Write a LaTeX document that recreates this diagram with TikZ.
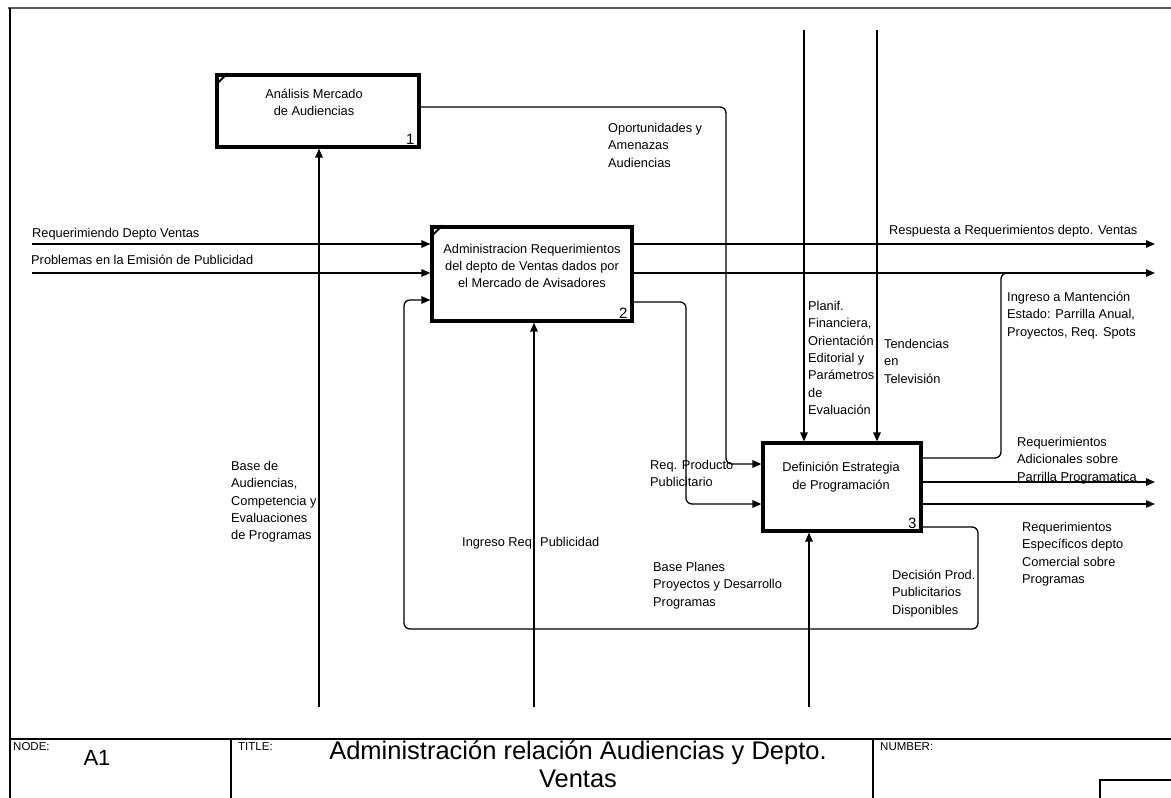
\documentclass[tikz,border=0pt]{standalone}
\usepackage{fontspec}
\setmainfont{Liberation Sans}
\usetikzlibrary{arrows.meta}
\newcommand\lblfont{\fontsize{12.8}{17.3}\selectfont}
\newcommand\tagfont{\fontsize{11.5}{13}\selectfont}
\begin{document}
\begin{tikzpicture}[x=1pt,y=-1pt,
  box/.style={draw, line width=3.2pt, inner sep=0pt},
  boxtxt/.style={font=\lblfont, align=center, inner sep=0pt},
  num/.style={font=\fontsize{15}{17}\selectfont, inner sep=0pt},
  flow/.style={line width=1.3pt, rounded corners=6pt},
  arr/.style={flow, -{Triangle[length=9pt,width=7.5pt]}},
  % multi-line labels are placed by the baseline of their last line
  lbl/.style={font=\lblfont, align=left, inner sep=0pt, anchor=base west},
  tag/.style={font=\tagfont, inner sep=0pt, anchor=base west},
  rule/.style={line width=1.3pt}
]
\useasboundingbox (0,0) rectangle (1171,798);
\fill[white] (0,0) rectangle (1171,798);

% sheet frame
\draw[line width=2.5pt, black!65] (8,8) -- (1171,8);
\draw[line width=1.8pt] (10,8) -- (10,798);

% activity boxes
\node[box, minimum width=202pt, minimum height=72pt] (b1) at (318,111) {};
\node[box, minimum width=200pt, minimum height=94pt] (b2) at (532,274) {};
\node[box, minimum width=158pt, minimum height=88pt] (b3) at (842,487) {};
\foreach \b in {b1,b2}
  \draw[line width=2pt] ([yshift=-12pt]\b.north west) -- ([xshift=12pt]\b.north west);

\node[boxtxt] (t1) at (314,102) {Análisis Mercado\\de Audiencias};
\node[boxtxt] (t2) at (532,266) {Administracion Requerimientos\\del depto de Ventas dados por\\el Mercado de Avisadores};
\node[boxtxt] (t3) at (841,477) {Definición Estrategia\\de Programación};
\node[num, anchor=south east] (n1) at ([xshift=-6pt,yshift=4pt]b1.south east) {1};
\node[num, anchor=south east] (n2) at ([xshift=-6pt,yshift=4pt]b2.south east) {2};
\node[num, anchor=south east] (n3) at ([xshift=-6pt,yshift=4pt]b3.south east) {3};

% free ends of the arrows
\coordinate (in1) at (32,244);
\coordinate (in2) at (32,273);
\coordinate (out1) at (1155,244);
\coordinate (out2) at (1155,273);
\coordinate (out3) at (1155,482);
\coordinate (out4) at (1155,504);
\coordinate (ctl1) at (804,30);
\coordinate (ctl2) at (877,30);
\coordinate (mec1) at (319,707);
\coordinate (mec2) at (534,707);
\coordinate (mec3) at (809,707);
\coordinate (join) at (1016,273);

% inputs
\draw[arr] (in1) -- (b2.west |- in1);
\draw[arr] (in2) -- (b2.west |- in2);
% outputs of box 2
\draw[arr] (b2.east |- out1) -- (out1);
\draw[arr] (b2.east |- out2) -- (out2);
% box 3 output merging into the second line
\draw[flow] (b3.east |- 0,458) -- (1001,458) -- (1001,273) -- (join);
% outputs of box 3
\draw[arr] (b3.east |- out3) -- (out3);
\draw[arr] (b3.east |- out4) -- (out4);
% feedback from box 3 back to box 2
\draw[arr] (b3.east |- 0,527) -- (978,527) -- (978,629) -- (404,629) -- (404,300) -- (b2.west |- 0,300);
% box 2 to box 3
\draw[arr] (b2.east |- 0,302) -- (686,302) -- (686,504) -- (b3.west |- 0,504);
% box 1 to box 3
\draw[arr] (b1.east |- 0,107) -- (726,107) -- (726,464) -- (b3.west |- 0,464);
% controls
\draw[arr] (ctl1) -- (b3.north -| ctl1);
\draw[arr] (ctl2) -- (b3.north -| ctl2);
% mechanisms
\draw[arr] (mec1) -- (b1.south -| mec1);
\draw[arr] (mec2) -- (b2.south -| mec2);
\draw[arr] (mec3) -- (b3.south -| mec3);

% arrow labels
\node[lbl] (l1) at (32,237.5) {Requerimiendo Depto Ventas};
\node[lbl] (l2) at (31,264.5) {Problemas en la Emisión de Publicidad};
\node[lbl] (l3) at (889,234.5) {Respuesta a Requerimientos depto. Ventas};
\node[lbl] (l4) at (608,167.1) {Oportunidades y\\Amenazas\\Audiencias};
\node[lbl] (l5) at (808,414.3) {Planif.\\Financiera,\\Orientación\\Editorial y\\Parámetros\\de\\Evaluación};
\node[lbl] (l6) at (884,383.1) {Tendencias\\en\\Televisión};
\node[lbl] (l7) at (1007,336.1) {Ingreso a Mantención\\Estado: Parrilla Anual,\\Proyectos, Req. Spots};
\node[lbl] (l8) at (1017,481.1) {Requerimientos\\Adicionales sobre\\Parrilla Programatica};
\node[lbl] (l9) at (1022,583.4) {Requerimientos\\Específicos depto\\Comercial sobre\\Programas};
\node[lbl] (l10) at (650,486.8) {Req. Producto\\Publicitario};
\node[lbl] (l11) at (231,539.7) {Base de\\Audiencias,\\Competencia y\\Evaluaciones\\de Programas};
\node[lbl] (l12) at (462,546.5) {Ingreso Req. Publicidad};
\node[lbl] (l13) at (653,606.1) {Base Planes\\Proyectos y Desarrollo\\Programas};
\node[lbl] (l14) at (892,614.1) {Decisión Prod.\\Publicitarios\\Disponibles};

% title block
\draw[rule] (10,739) -- (1171,739);
\draw[rule] (231,739) -- (231,798);
\draw[rule] (873,739) -- (873,798);
\draw[rule] (1100,798) -- (1100,780) -- (1171,780);
\node[tag] (nodetag) at (13,750) {NODE:};
\node[font=\fontsize{22}{24}\selectfont, inner sep=0pt] (nodeid) at (97,758) {A1};
\node[tag] (titletag) at (238,750) {TITLE:};
\node[font=\fontsize{25.5}{28}\selectfont, align=center, inner sep=0pt] (title) at (578,764) {Administración relación Audiencias y Depto.\\Ventas};
\node[tag] (numtag) at (880,750) {NUMBER:};
\end{tikzpicture}
\end{document}
